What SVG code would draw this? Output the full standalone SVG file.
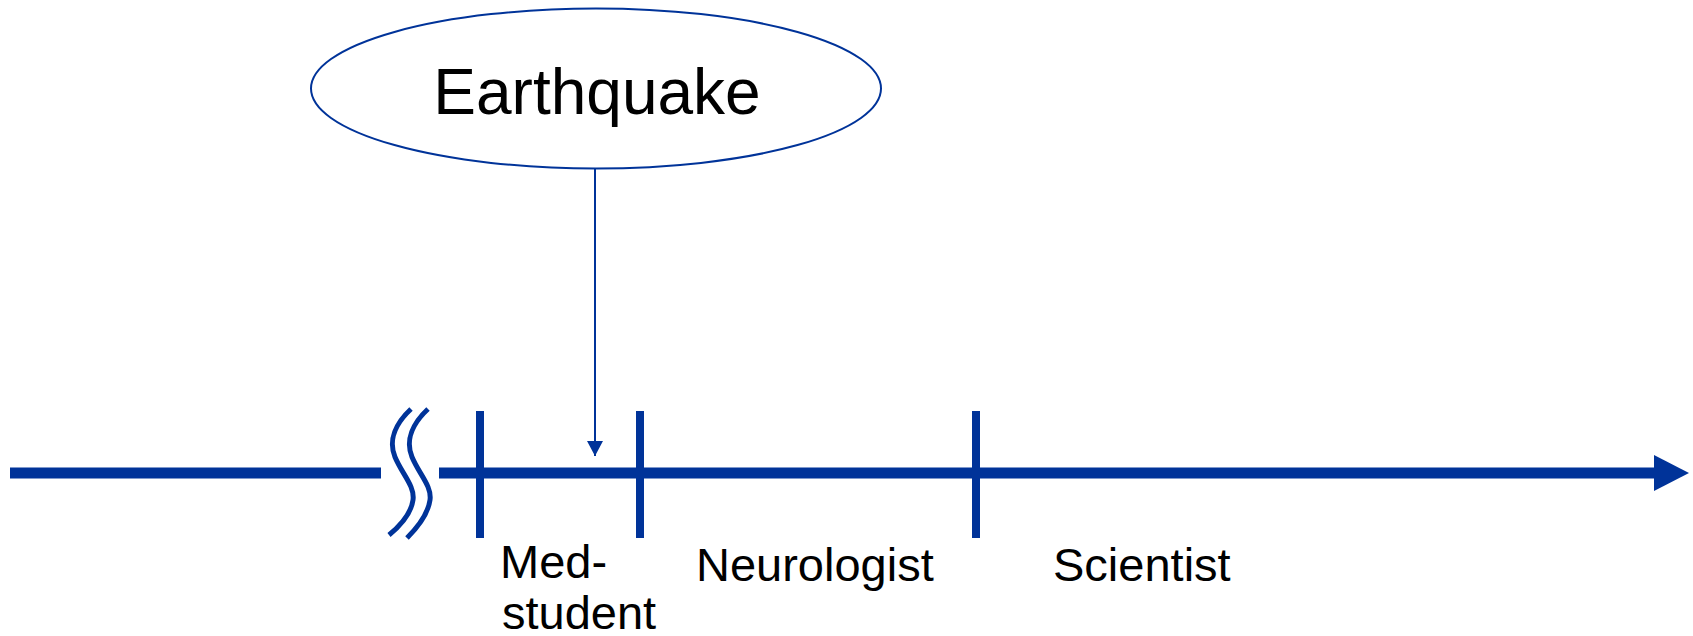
<svg xmlns="http://www.w3.org/2000/svg" width="1693" height="636" viewBox="0 0 1693 636">
<style>
.blue{stroke:#003399;fill:none}
.lbl{font-family:"Liberation Sans",Arial,sans-serif;font-size:47px;fill:#000}
</style>
<defs>
<marker id="ah" markerUnits="userSpaceOnUse" markerWidth="16" markerHeight="16" refX="15" refY="8" orient="auto" viewBox="0 0 16 16">
<path d="M0,0 L15,8 L0,16 Z" fill="#003399"/>
</marker>
</defs>
<rect width="1693" height="636" fill="#fff"/>
<g id="timeline">
<line class="blue" x1="10" y1="473" x2="381" y2="473" stroke-width="11"/>
<line class="blue" x1="439" y1="473" x2="1656" y2="473" stroke-width="11"/>
<path d="M1654,455 L1689,473 L1654,491 Z" fill="#003399"/>
<path class="blue" stroke-width="5" d="M411,409 C396,423 388,440 395,457 C402,474 415,486 413,500 C411,514 400,526 389,535"/>
<path class="blue" stroke-width="5" d="M428,409 C413,423 405,440 412,457 C419,474 432,486 430,500 C428,514 418,527 407,538"/>
<line class="blue" x1="480" y1="411" x2="480" y2="538" stroke-width="8"/>
<line class="blue" x1="640" y1="411" x2="640" y2="538" stroke-width="8"/>
<line class="blue" x1="976" y1="411" x2="976" y2="538" stroke-width="8"/>
</g>
<g id="earthquake">
<ellipse cx="596" cy="88.5" rx="285" ry="80" fill="#fff" stroke="#003399" stroke-width="2"/>
<text x="597" y="114" text-anchor="middle" style="font-family:'Liberation Sans',Arial,sans-serif;font-size:64px;fill:#000">Earthquake</text>
</g>
<g id="connectors">
<line class="blue" x1="595" y1="169" x2="595" y2="456" stroke-width="2" marker-end="url(#ah)"/>
</g>
<g id="med-student">
<text class="lbl" x="500" y="578">Med-</text>
<text class="lbl" x="502" y="629">student</text>
</g>
<g id="neurologist">
<text class="lbl" x="696" y="581">Neurologist</text>
</g>
<g id="scientist">
<text class="lbl" x="1053" y="581">Scientist</text>
</g>
</svg>
